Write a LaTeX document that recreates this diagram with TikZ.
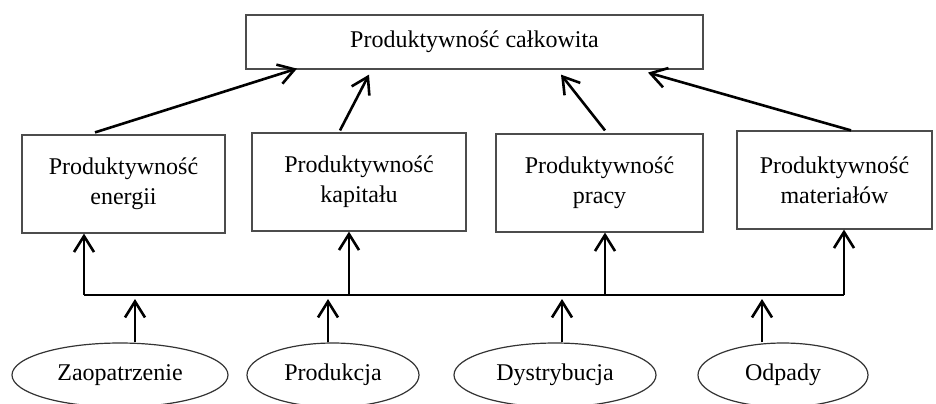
\documentclass[tikz,border=0pt]{standalone}
\usepackage{fontspec}
\setmainfont{Liberation Serif}
\usetikzlibrary{arrows.meta,shapes.geometric,positioning,calc}

\begin{document}
\begin{tikzpicture}[x=0.5pt, y=-0.5pt, >={Straight Barb[length=8pt,width=10pt]}, line width=1.3pt,
    box/.style={draw=black!70, line width=0.6pt, inner sep=0pt, minimum height=49pt, align=center, font=\fontsize{12}{15}\selectfont},
    oval/.style={ellipse, draw=black!80, line width=0.6pt, inner sep=0pt, minimum height=32pt, font=\fontsize{12}{15}\selectfont}]
                \useasboundingbox (0,0) rectangle (936,403);

                % Top box
                \node[box, minimum width=228.5pt, minimum height=27pt] (total) at (474.5,42) {Produktywność całkowita};

                % Middle row
                \node[box, minimum width=101.5pt] (energy) at (123.5,184) {Produktywność\\energii};
                \node[box, minimum width=107pt] (capital) at (359,182) {Produktywność\\kapitału};
                \node[box, minimum width=103.5pt] (labour) at (599.5,183) {Produktywność\\pracy};
                \node[box, minimum width=97.5pt] (material) at (834.5,180) {Produktywność\\materiałów};

                % Bottom row
                \node[oval, minimum width=108pt] (supply) at (120,375) {Zaopatrzenie};
                \node[oval, minimum width=86pt] (production) at (333,375) {Produkcja};
                \node[oval, minimum width=101pt] (distribution) at (555,375) {Dystrybucja};
                \node[oval, minimum width=85pt] (waste) at (783,375) {Odpady};

                % Bus
                \coordinate (j1) at (84,295);
                \coordinate (j2) at (349,295);
                \coordinate (j3) at (605,295);
                \coordinate (j4) at (844,295);
                \coordinate (i1) at (135,299);
                \coordinate (i2) at (328,299);
                \coordinate (i3) at (562,299);
                \coordinate (i4) at (762,299);
                \draw (j1) -- (j4);

                % Up to the middle row
                \draw[->] (j1) -- (j1 |- energy.south);
                \draw[->] (j2) -- (j2 |- capital.south);
                \draw[->] (j3) -- (j3 |- labour.south);
                \draw[->] (j4) -- (j4 |- material.south);

                % Up from the bottom row
                \draw[->] (supply.north -| i1) -- (i1);
                \draw[->] (production.north -| i2) -- (i2);
                \draw[->] (distribution.north -| i3) -- (i3);
                \draw[->] (waste.north -| i4) -- (i4);

                % Up to the top box
                \draw[->] ($(energy.north)+(-28.5,-2)$) -- ($(total.south)+(-177.5,-1)$);
                \draw[->] ($(capital.north)+(-19,-2)$) -- ($(total.south)+(-105.5,5)$);
                \draw[->] ($(labour.north)+(5.5,-3)$) -- ($(total.south)+(86.5,5)$);
                \draw[->] ($(material.north)+(16.5,0)$) -- ($(total.south)+(173.5,3)$);
            \end{tikzpicture}
\end{document}
